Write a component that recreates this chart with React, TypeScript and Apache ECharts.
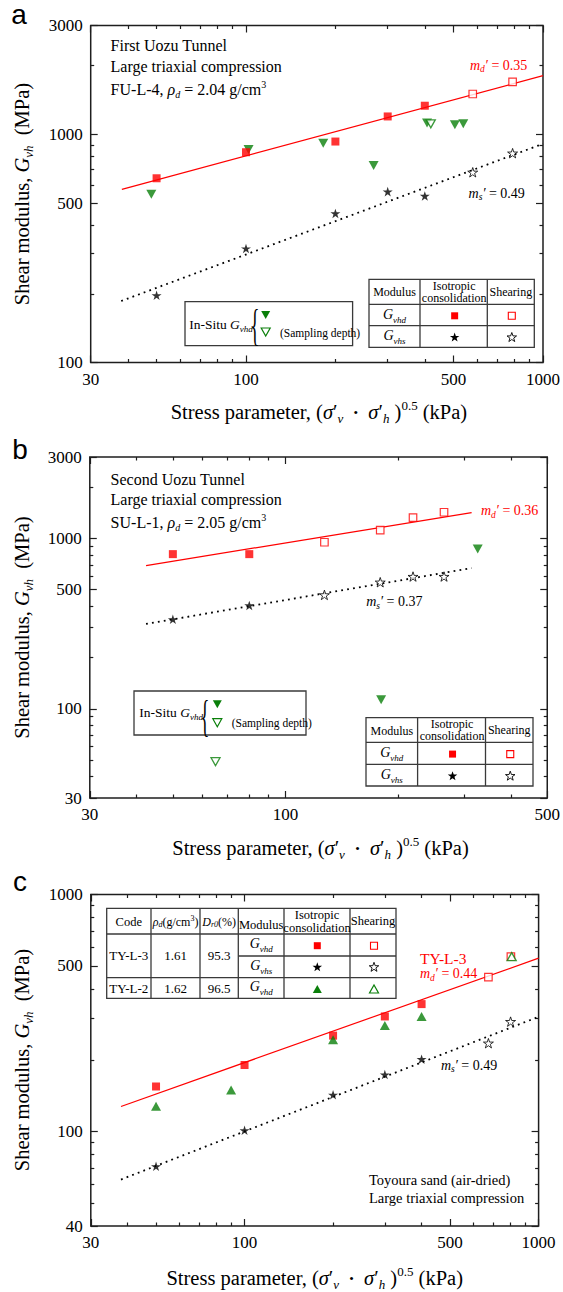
import React, { useEffect, useRef } from "react";
import * as echarts from "echarts";

const SERIF = '"Liberation Serif", "Times New Roman", Times, serif';
const SANS = '"Liberation Sans", Arial, Helvetica, sans-serif';
const RED = "#ff0000";
const GREEN = "#0a7f0a";
const INK = "#1e1e1e";

/* ---------- Panel a: First Uozu Tunnel, FU-L-4 ---------- */
const aXRange = [30, 1000];
const aYRange = [100, 3000];
const aXTickLabels = [30, 100, 500, 1000];
const aXMinorTicks = [40, 50, 60, 70, 80, 90, 200, 300, 400, 600, 700, 800, 900];
const aYTickLabels = [100, 500, 1000, 3000];
const aYMinorTicks = [200, 300, 400, 600, 700, 800, 900, 2000];
const aVhdIsoX = [50, 100, 200, 300, 400];
const aVhdIsoY = [642, 835, 930, 1198, 1335];
const aVhdShearX = [580, 790];
const aVhdShearY = [1503, 1697];
const aVhsIsoX = [50, 100, 200, 300, 400];
const aVhsIsoY = [197, 316, 450, 561, 537];
const aVhsShearX = [580, 790];
const aVhsShearY = [682, 827];
const aInSituX = [48, 102, 182, 269, 407, 505, 539];
const aInSituY = [546, 858, 915, 730, 1121, 1101, 1112];
const aDepthX = [419];
const aDepthY = [1112];
const aFitDX = [38.2, 1000];
const aFitDY = [574, 1808];
const aFitSX = [38, 1000];
const aFitSY = [186, 909];

/* ---------- Panel b: Second Uozu Tunnel, SU-L-1 ---------- */
const bXRange = [30, 500];
const bYRange = [30, 3000];
const bXTickLabels = [30, 100, 500];
const bXMinorTicks = [40, 50, 60, 70, 80, 90, 200, 300, 400];
const bYTickLabels = [30, 100, 500, 1000, 3000];
const bYMinorTicks = [40, 50, 60, 70, 80, 90, 200, 300, 400, 600, 700, 800, 900, 2000];
const bVhdIsoX = [50, 80];
const bVhdIsoY = [808, 808];
const bVhdShearX = [127, 179, 219, 265];
const bVhdShearY = [949, 1116, 1323, 1423];
const bVhsIsoX = [50, 80];
const bVhsIsoY = [335, 404];
const bVhsShearX = [127, 179, 219, 265];
const bVhsShearY = [466, 553, 597, 597];
const bInSituX = [180, 326];
const bInSituY = [113, 867];
const bDepthX = [65];
const bDepthY = [49];
const bFitDX = [42.4, 314];
const bFitDY = [692, 1415];
const bFitSX = [42.4, 314];
const bFitSY = [315, 669];

/* ---------- Panel c: Toyoura sand ---------- */
const cXRange = [30, 1000];
const cYRange = [40, 1000];
const cXTickLabels = [30, 100, 500, 1000];
const cXMinorTicks = [40, 50, 60, 70, 80, 90, 200, 300, 400, 600, 700, 800, 900];
const cYTickLabels = [40, 100, 500, 1000];
const cYMinorTicks = [50, 60, 70, 80, 90, 200, 300, 400, 600, 700, 800, 900];
const cL3VhdIsoX = [50, 100, 200, 300, 400];
const cL3VhdIsoY = [155, 191, 254, 306, 345];
const cL3VhdShearX = [675, 805];
const cL3VhdShearY = [448, 547];
const cL3VhsIsoX = [50, 100, 200, 300, 400];
const cL3VhsIsoY = [71.4, 101.3, 143, 174, 202];
const cL3VhsShearX = [675, 803];
const cL3VhsShearY = [236, 291];
const cL2VhdIsoX = [50, 90, 200, 300, 400];
const cL2VhdIsoY = [128, 150, 244, 280, 306];
const cL2VhdShearX = [810];
const cL2VhdShearY = [547];
const cFitDX = [38, 1000];
const cFitDY = [127.7, 539];
const cFitSX = [38, 1000];
const cFitSY = [62.8, 305];

/* ---------- layout ---------- */
const GRIDS = [
  { left: 90.7, top: 25.5, width: 456.3, height: 337 },
  { left: 89.8, top: 457, width: 461.4, height: 341 },
  { left: 90.8, top: 894.5, width: 447.8, height: 331.5 },
];

const lg = (v: number) => Math.log10(v);
const pts = (xs: number[], ys: number[]) => xs.map((x, k) => [x, ys[k]]);

function starPoints(cx: number, cy: number, R: number, r: number) {
  const out: number[][] = [];
  for (let k = 0; k < 10; k++) {
    const a = -Math.PI / 2 + (k * Math.PI) / 5;
    const rad = k % 2 ? r : R;
    out.push([cx + rad * Math.cos(a), cy + rad * Math.sin(a)]);
  }
  return out;
}
const STAR =
  "path://" +
  starPoints(50, 50, 50, 19)
    .map((p, k) => (k ? "L" : "M") + p[0].toFixed(2) + "," + p[1].toFixed(2))
    .join(" ") +
  " Z";

const SYM: Record<string, any> = {
  sqFill: { symbol: "rect", symbolSize: 8, itemStyle: { color: RED } },
  sqOpen: { symbol: "rect", symbolSize: 7.5, itemStyle: { color: "#fff", borderColor: RED, borderWidth: 1.2 } },
  starFill: { symbol: STAR, symbolSize: 10, symbolKeepAspect: true, itemStyle: { color: "#000" } },
  starOpen: { symbol: STAR, symbolSize: 10, symbolKeepAspect: true, itemStyle: { color: "#fff", borderColor: "#000", borderWidth: 1 } },
  triDownFill: { symbol: "triangle", symbolRotate: 180, symbolSize: [10, 9], itemStyle: { color: GREEN } },
  triDownOpen: { symbol: "triangle", symbolRotate: 180, symbolSize: [9, 8], itemStyle: { color: "#fff", borderColor: GREEN, borderWidth: 1.3 } },
  triUpFill: { symbol: "triangle", symbolSize: [10, 9], itemStyle: { color: GREEN } },
  triUpOpen: { symbol: "triangle", symbolSize: [9, 8], itemStyle: { color: "#fff", borderColor: GREEN, borderWidth: 1.3 } },
};

function dataAxis(dim: "x" | "y", gi: number, range: number[]) {
  return {
    type: "log",
    logBase: 10,
    gridIndex: gi,
    min: range[0],
    max: range[1],
    position: dim === "x" ? "bottom" : "left",
    axisLine: { show: false, onZero: false },
    axisTick: { show: false },
    axisLabel: { show: false },
    splitLine: { show: false },
    minorTick: { show: false },
    minorSplitLine: { show: false },
  };
}

function tickAxis(gi: number, pos: string, range: number[], ticks: number[], len: number, labels: number[] | null) {
  return {
    type: "value",
    gridIndex: gi,
    position: pos,
    min: lg(range[0]),
    max: lg(range[1]),
    axisLine: { show: false, onZero: false },
    splitLine: { show: false },
    axisTick: {
      show: true,
      inside: true,
      length: len,
      customValues: ticks.map(lg),
      lineStyle: { color: INK, width: 1.2 },
    },
    axisLabel: labels
      ? {
          show: true,
          customValues: labels.map(lg),
          formatter: (v: number) => String(Math.round(Math.pow(10, v))),
          margin: 8,
          fontFamily: SERIF,
          fontSize: 17,
          color: "#000",
        }
      : { show: false },
  };
}

function rich(size: number, sub: number, lh: number) {
  return {
    n: { fontFamily: SERIF, fontSize: size, lineHeight: lh },
    i: { fontFamily: SERIF, fontSize: size, fontStyle: "italic", lineHeight: lh },
    s: { fontFamily: SERIF, fontSize: sub, fontStyle: "italic", lineHeight: sub, verticalAlign: "bottom" },
    p: { fontFamily: SERIF, fontSize: sub, lineHeight: sub, verticalAlign: "top" },
    b: { fontFamily: SERIF, fontSize: sub, lineHeight: lh },
  };
}

function T(x: number, y: number, text: string, r: any, o: any = {}) {
  const align = o.align || "left";
  return {
    type: "text",
    x,
    y,
    rotation: o.rotation || 0,
    scaleX: o.scaleX || 1,
    silent: true,
    z: 20,
    style: {
      text,
      rich: r,
      fill: o.fill || "#000",
      fontFamily: o.family || SERIF,
      fontSize: o.size || 14,
      fontStyle: o.italic ? "italic" : "normal",
      textAlign: align,
      align,
      textVerticalAlign: "middle",
      verticalAlign: "middle",
    },
  };
}

const L = (x1: number, y1: number, x2: number, y2: number) => ({
  type: "line",
  silent: true,
  z: 20,
  shape: { x1, y1, x2, y2 },
  style: { stroke: "#3a3a3a", lineWidth: 1.3 },
});
const BOX = (x1: number, y1: number, x2: number, y2: number) => ({
  type: "rect",
  silent: true,
  z: 19,
  shape: { x: x1, y: y1, width: x2 - x1, height: y2 - y1 },
  style: { fill: "#fff", stroke: "#3a3a3a", lineWidth: 1.3 },
});
const sqIcon = (cx: number, cy: number, open: boolean) => ({
  type: "rect",
  silent: true,
  z: 21,
  shape: { x: cx - 3.5, y: cy - 3.5, width: 7, height: 7 },
  style: open ? { fill: "#fff", stroke: RED, lineWidth: 1.1 } : { fill: RED },
});
const starIcon = (cx: number, cy: number, open: boolean) => ({
  type: "polygon",
  silent: true,
  z: 21,
  shape: { points: starPoints(cx, cy, 5, 2) },
  style: open ? { fill: "#fff", stroke: "#000", lineWidth: 0.9 } : { fill: "#000" },
});
const triIcon = (cx: number, cy: number, down: boolean, open: boolean) => {
  const w = 9, h = 8;
  const p = down
    ? [[cx - w / 2, cy - h / 2], [cx + w / 2, cy - h / 2], [cx, cy + h / 2]]
    : [[cx - w / 2, cy + h / 2], [cx + w / 2, cy + h / 2], [cx, cy - h / 2]];
  return {
    type: "polygon",
    silent: true,
    z: 21,
    shape: { points: p },
    style: open ? { fill: "#fff", stroke: GREEN, lineWidth: 1.2 } : { fill: GREEN },
  };
};

const R_TITLE = rich(20.5, 13, 26);
const R_PANEL = rich(16, 10, 20);
const R_M = rich(14, 9.5, 18);
const R_TAB = rich(12, 8, 14);
const R_G = rich(14, 9, 20);
const R_INSITU = rich(13.5, 9, 18);

const X_TITLE = "{n|Stress parameter, (}{i|σ}{n|′}{s|v}{n|  }{b|•}{n|  }{i|σ}{n|′}{s|h}{n| )}{p|0.5}{n| (kPa)}";
const Y_TITLE = "{n|Shear modulus, }{i|G}{s|vh}{n|  (MPa)}";

function table2(x1: number, y1: number, x2: number, y2: number, c1: number, c2: number, r1: number, r2: number) {
  const m1 = (x1 + c1) / 2, m2 = (c1 + c2) / 2, m3 = (c2 + x2) / 2;
  const h = (y1 + r1) / 2, ra = (r1 + r2) / 2, rb = (r2 + y2) / 2;
  return [
    BOX(x1, y1, x2, y2),
    L(c1, y1, c1, y2),
    L(c2, y1, c2, y2),
    L(x1, r1, x2, r1),
    L(x1, r2, x2, r2),
    T(m1, h + 0.5, "Modulus", null, { align: "center", size: 12 }),
    T(m2 + 0.5, h - 6.3, "Isotropic", null, { align: "center", size: 12 }),
    T(m2 + 0.5, h + 6.3, "consolidation", null, { align: "center", size: 12 }),
    T(m3, h, "Shearing", null, { align: "center", size: 12 }),
    T(m1, ra - 1, "{i|G}{s|vhd}", R_G, { align: "center" }),
    sqIcon(m2 + 1, ra + 0.8, false),
    sqIcon(m3 + 1, ra + 0.8, true),
    T(m1, rb - 1, "{i|G}{s|vhs}", R_G, { align: "center" }),
    starIcon(m2 + 1, rb + 1, false),
    starIcon(m3 + 1, rb + 1, true),
  ];
}

function inSitu(bx1: number, by1: number, bx2: number, by2: number, tx: number, ty: number, brx: number, bry: number, trx: number, t1: number, t2: number, sx: number, sy: number) {
  return [
    BOX(bx1, by1, bx2, by2),
    T(tx, ty, "{n|In-Situ }{i|G}{s|vhd}", R_INSITU),
    T(brx, bry, "{", null, { align: "center", size: 44, scaleX: 0.42 }),
    triIcon(trx, t1, true, false),
    triIcon(trx, t2, true, true),
    T(sx, sy, "(Sampling depth)", null, { size: 11.5 }),
  ];
}

function buildOption() {
  const panels = [
    { xr: aXRange, yr: aYRange, xl: aXTickLabels, xm: aXMinorTicks, yl: aYTickLabels, ym: aYMinorTicks },
    { xr: bXRange, yr: bYRange, xl: bXTickLabels, xm: bXMinorTicks, yl: bYTickLabels, ym: bYMinorTicks },
    { xr: cXRange, yr: cYRange, xl: cXTickLabels, xm: cXMinorTicks, yl: cYTickLabels, ym: cYMinorTicks },
  ];
  const xAxis: any[] = [];
  const yAxis: any[] = [];
  panels.forEach((p, i) => {
    xAxis.push(dataAxis("x", i, p.xr));
    xAxis.push(tickAxis(i, "bottom", p.xr, p.xl, 7, p.xl));
    xAxis.push(tickAxis(i, "bottom", p.xr, p.xm, 3.5, null));
    xAxis.push(tickAxis(i, "top", p.xr, p.xl, 7, null));
    xAxis.push(tickAxis(i, "top", p.xr, p.xm, 3.5, null));
    yAxis.push(dataAxis("y", i, p.yr));
    yAxis.push(tickAxis(i, "left", p.yr, p.yl, 7, p.yl));
    yAxis.push(tickAxis(i, "left", p.yr, p.ym, 3.5, null));
    yAxis.push(tickAxis(i, "right", p.yr, p.yl, 7, null));
    yAxis.push(tickAxis(i, "right", p.yr, p.ym, 3.5, null));
  });

  const scat = (gi: number, name: string, xs: number[], ys: number[], sym: any) => ({
    type: "scatter",
    name,
    xAxisIndex: gi * 5,
    yAxisIndex: gi * 5,
    data: pts(xs, ys),
    silent: true,
    z: 5,
    emphasis: { disabled: true },
    ...sym,
  });
  const fit = (gi: number, name: string, xs: number[], ys: number[], dotted: boolean) => ({
    type: "line",
    name,
    xAxisIndex: gi * 5,
    yAxisIndex: gi * 5,
    data: pts(xs, ys),
    showSymbol: false,
    symbol: "none",
    silent: true,
    z: 3,
    lineStyle: dotted
      ? { color: "#000", width: 1.8, type: [1.8, 4.2] }
      : { color: RED, width: 1.2, type: "solid" },
  });

  const series = [
    fit(0, "a md", aFitDX, aFitDY, false),
    fit(0, "a ms", aFitSX, aFitSY, true),
    scat(0, "a in-situ", aInSituX, aInSituY, SYM.triDownFill),
    scat(0, "a in-situ depth", aDepthX, aDepthY, SYM.triDownOpen),
    scat(0, "a Gvhd iso", aVhdIsoX, aVhdIsoY, SYM.sqFill),
    scat(0, "a Gvhd shear", aVhdShearX, aVhdShearY, SYM.sqOpen),
    scat(0, "a Gvhs iso", aVhsIsoX, aVhsIsoY, SYM.starFill),
    scat(0, "a Gvhs shear", aVhsShearX, aVhsShearY, SYM.starOpen),

    fit(1, "b md", bFitDX, bFitDY, false),
    fit(1, "b ms", bFitSX, bFitSY, true),
    scat(1, "b in-situ", bInSituX, bInSituY, SYM.triDownFill),
    scat(1, "b in-situ depth", bDepthX, bDepthY, SYM.triDownOpen),
    scat(1, "b Gvhd iso", bVhdIsoX, bVhdIsoY, SYM.sqFill),
    scat(1, "b Gvhd shear", bVhdShearX, bVhdShearY, SYM.sqOpen),
    scat(1, "b Gvhs iso", bVhsIsoX, bVhsIsoY, SYM.starFill),
    scat(1, "b Gvhs shear", bVhsShearX, bVhsShearY, SYM.starOpen),

    fit(2, "c md", cFitDX, cFitDY, false),
    fit(2, "c ms", cFitSX, cFitSY, true),
    scat(2, "c L3 Gvhd iso", cL3VhdIsoX, cL3VhdIsoY, SYM.sqFill),
    scat(2, "c L3 Gvhd shear", cL3VhdShearX, cL3VhdShearY, SYM.sqOpen),
    scat(2, "c L2 Gvhd iso", cL2VhdIsoX, cL2VhdIsoY, SYM.triUpFill),
    scat(2, "c L2 Gvhd shear", cL2VhdShearX, cL2VhdShearY, SYM.triUpOpen),
    scat(2, "c L3 Gvhs iso", cL3VhsIsoX, cL3VhsIsoY, SYM.starFill),
    scat(2, "c L3 Gvhs shear", cL3VhsShearX, cL3VhsShearY, SYM.starOpen),
  ];

  const graphic: any[] = [
    // panel letters
    T(19, 14.5, "a", null, { align: "center", family: SANS, size: 28 }),
    T(20, 449, "b", null, { align: "center", family: SANS, size: 28 }),
    T(20, 881.5, "c", null, { align: "center", family: SANS, size: 28 }),
    // axis titles
    T(318.9, 412, X_TITLE, R_TITLE, { align: "center" }),
    T(320.5, 848.3, X_TITLE, R_TITLE, { align: "center" }),
    T(314.7, 1278.3, X_TITLE, R_TITLE, { align: "center" }),
    T(22, 194, Y_TITLE, R_TITLE, { align: "center", rotation: Math.PI / 2 }),
    T(22, 627.5, Y_TITLE, R_TITLE, { align: "center", rotation: Math.PI / 2 }),
    T(22, 1060, Y_TITLE, R_TITLE, { align: "center", rotation: Math.PI / 2 }),
    // panel a annotations
    T(110.6, 45.7, "First Uozu Tunnel", null, { size: 16 }),
    T(110.6, 66, "Large triaxial compression", null, { size: 16 }),
    T(110.6, 89, "{n|FU-L-4, }{i|ρ}{s|d}{n| = 2.04 g/cm}{p|3}", R_PANEL),
    T(470, 65, "{i|m}{s|d}{i|′}{n| = 0.35}", R_M, { fill: RED }),
    T(468.6, 193.3, "{i|m}{s|s}{i|′}{n| = 0.49}", R_M),
    ...inSitu(185, 301.7, 352.6, 345.7, 189.2, 324.3, 255, 325, 265.7, 315, 332, 280, 332.7),
    ...table2(369, 279.3, 534.3, 347.3, 420, 487.3, 304.3, 325.7),
    // panel b annotations
    T(110.6, 479.2, "Second Uozu Tunnel", null, { size: 16 }),
    T(110.6, 499.8, "Large triaxial compression", null, { size: 16 }),
    T(110.6, 522.5, "{n|SU-L-1, }{i|ρ}{s|d}{n| = 2.05 g/cm}{p|3}", R_PANEL),
    T(481, 510.7, "{i|m}{s|d}{i|′}{n| = 0.36}", R_M, { fill: RED }),
    T(366.2, 601.7, "{i|m}{s|s}{i|′}{n| = 0.37}", R_M),
    ...inSitu(134, 691, 306, 735, 139.3, 712.7, 205, 716, 217.3, 704.3, 722.7, 231.7, 723.3),
    ...table2(366, 717.7, 533, 786, 417.6, 485.5, 742.3, 764.3),
    // panel c annotations
    T(420, 958.3, "TY-L-3", null, { size: 15.5, fill: RED }),
    T(420, 973.5, "{i|m}{s|d}{i|′}{n| = 0.44}", R_M, { fill: RED }),
    T(441, 1065, "{i|m}{s|s}{i|′}{n| = 0.49}", R_M),
    T(369, 1180, "Toyoura sand (air-dried)", null, { size: 14.5 }),
    T(369, 1198.3, "Large triaxial compression", null, { size: 14.5 }),
    // panel c table
    BOX(106.7, 908.3, 396, 998.3),
    L(151, 908.3, 151, 998.3),
    L(200, 908.3, 200, 998.3),
    L(238.3, 908.3, 238.3, 998.3),
    L(284, 908.3, 284, 998.3),
    L(350, 908.3, 350, 998.3),
    L(106.7, 934, 396, 934),
    L(238.3, 956, 396, 956),
    L(106.7, 977.7, 396, 977.7),
    T(128.8, 921.7, "Code", null, { align: "center", size: 12.5 }),
    T(175.5, 921.7, "{i|ρ}{s|d}{n|(g/cm}{p|3}{n|)}", R_TAB, { align: "center" }),
    T(219.2, 921.7, "{i|D}{s|r0}{n|(%)}", R_TAB, { align: "center" }),
    T(261.2, 924.5, "Modulus", null, { align: "center", size: 12.5 }),
    T(317, 915, "Isotropic", null, { align: "center", size: 12.5 }),
    T(317, 927.7, "consolidation", null, { align: "center", size: 12.5 }),
    T(373, 920.7, "Shearing", null, { align: "center", size: 12.5 }),
    T(128.8, 955.7, "TY-L-3", null, { align: "center", size: 13 }),
    T(175.5, 955.7, "1.61", null, { align: "center", size: 13 }),
    T(219.2, 955.7, "95.3", null, { align: "center", size: 13 }),
    T(261.2, 943.5, "{i|G}{s|vhd}", R_G, { align: "center" }),
    sqIcon(317.3, 945.7, false),
    sqIcon(374, 945.7, true),
    T(261.2, 965, "{i|G}{s|vhs}", R_G, { align: "center" }),
    starIcon(317.3, 967.3, false),
    starIcon(374, 967.3, true),
    T(128.8, 988, "TY-L-2", null, { align: "center", size: 13 }),
    T(175.5, 988, "1.62", null, { align: "center", size: 13 }),
    T(219.2, 988, "96.5", null, { align: "center", size: 13 }),
    T(261.2, 986.5, "{i|G}{s|vhd}", R_G, { align: "center" }),
    triIcon(317.3, 989, false, false),
    triIcon(374, 989, false, true),
  ];

  return {
    animation: false,
    backgroundColor: "#fff",
    grid: GRIDS.map((g) => ({
      ...g,
      show: true,
      borderColor: INK,
      borderWidth: 1.5,
      backgroundColor: "transparent",
      containLabel: false,
    })),
    xAxis,
    yAxis,
    series,
    graphic,
  };
}

export default function App() {
  const ref = useRef<HTMLDivElement>(null);
  useEffect(() => {
    if (!ref.current) return;
    const chart = echarts.init(ref.current, null, { renderer: "svg" });
    chart.setOption(buildOption() as any);
    return () => chart.dispose();
  }, []);
  return (
    <div
      ref={ref}
      style={{ position: "absolute", left: 0, top: 0, width: 563, height: 1292, background: "#fff" }}
    />
  );
}
